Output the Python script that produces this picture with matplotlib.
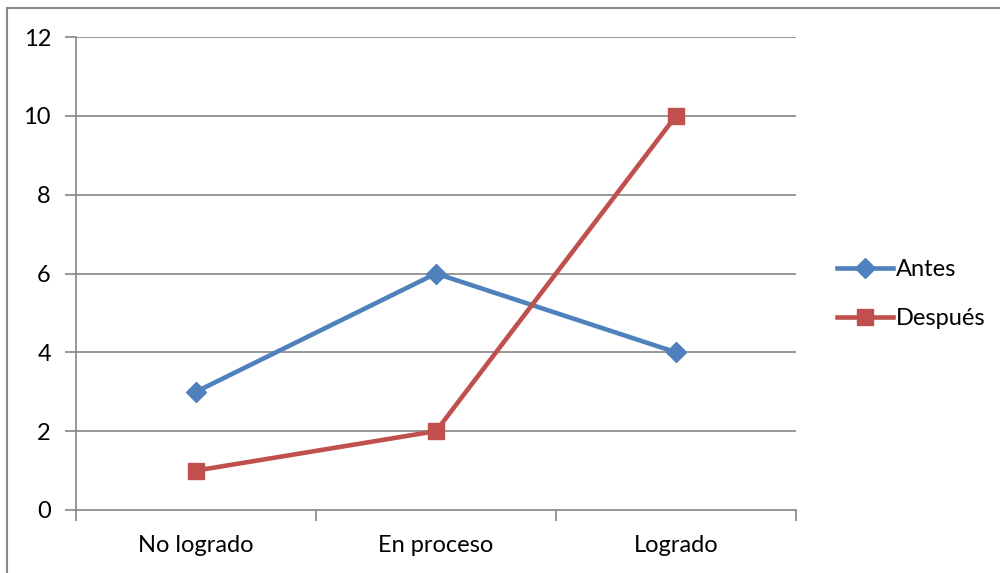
import matplotlib
matplotlib.use("Agg")
import matplotlib.pyplot as plt
from matplotlib.lines import Line2D

categories = ["No logrado", "En proceso", "Logrado"]
antes = [3, 6, 4]
despues = [1, 2, 10]
y_ticks = [0, 2, 4, 6, 8, 10, 12]

plt.rcParams["font.family"] = ["Lato", "DejaVu Sans"]

W, H = 1000, 573
fig = plt.figure(figsize=(W / 100, H / 100), dpi=100)

# outer chart frame (top and left edges visible)
fig.add_artist(Line2D([7 / W, 7 / W], [0, 1 - 8 / H], color="#878787", lw=1.5,
                      transform=fig.transFigure))
fig.add_artist(Line2D([7 / W, 1], [1 - 8 / H, 1 - 8 / H], color="#878787", lw=1.5,
                      transform=fig.transFigure))

ax = fig.add_axes([76 / W, 1 - 510 / H, (796 - 76) / W, (510 - 37) / H])

x = list(range(len(categories)))
grid_color = "#868686"
fs = 17

ax.set_ylim(0, 12)
ax.set_xlim(-0.5, len(categories) - 0.5)
ax.set_yticks(y_ticks)
ax.set_yticklabels([str(v) for v in y_ticks], fontsize=fs)
for v in y_ticks[1:]:
    ax.axhline(v, color=grid_color, lw=1.2, zorder=0)

ax.set_xticks([i - 0.5 for i in range(len(categories) + 1)], minor=False)
ax.set_xticklabels([])
ax.set_xticks(x, minor=True)
ax.set_xticklabels(categories, minor=True, fontsize=fs)
ax.tick_params(axis="x", which="major", length=8, width=1.2, color=grid_color)
ax.tick_params(axis="x", which="minor", length=0, pad=18)
ax.tick_params(axis="y", length=8, width=1.2, color=grid_color, pad=10)

for s in ["top", "right"]:
    ax.spines[s].set_visible(False)
for s in ["left", "bottom"]:
    ax.spines[s].set_color(grid_color)
    ax.spines[s].set_linewidth(1.2)

ax.plot(x, antes, color="#4F81BD", lw=3.3, marker="D", markersize=10,
        label="Antes", zorder=3, clip_on=False)
ax.plot(x, despues, color="#C0504D", lw=3.3, marker="s", markersize=12,
        label="Después", zorder=3, clip_on=False)

ax.legend(loc="center left", bbox_to_anchor=(825 / W, 1 - 294 / H),
          bbox_transform=fig.transFigure, frameon=False, fontsize=fs,
          handlelength=2.4, handletextpad=0.1, labelspacing=1.2, borderpad=0)

fig.savefig("out.png", dpi=100)
